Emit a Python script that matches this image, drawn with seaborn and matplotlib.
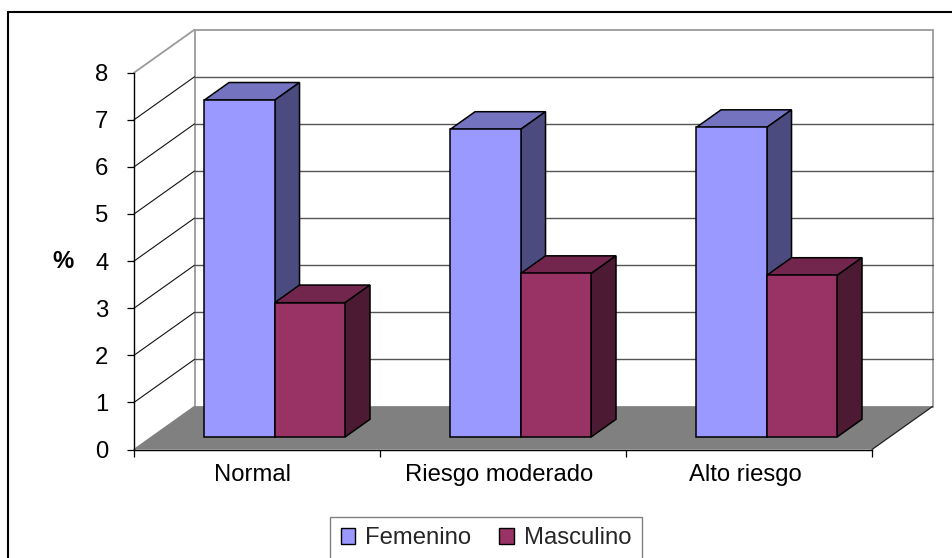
import matplotlib
matplotlib.use("Agg")
import matplotlib.pyplot as plt
from matplotlib.patches import Polygon, Rectangle, Patch
from matplotlib.lines import Line2D
from matplotlib.transforms import ScaledTranslation
import pandas as pd
import seaborn as sns

# Datos
categorias = ["Normal", "Riesgo moderado", "Alto riesgo"]
series = ["Femenino", "Masculino"]
femenino = [7.15, 6.53, 6.57]
masculino = [2.85, 3.47, 3.43]
y_ticks = [0, 1, 2, 3, 4, 5, 6, 7, 8]

color_frente = {"Femenino": "#9999FF", "Masculino": "#993366"}
color_arriba = {"Femenino": "#7373BF", "Masculino": "#73264D"}
color_lado = {"Femenino": "#4B4B80", "Masculino": "#4D1A33"}

df = pd.DataFrame({
    "categoria": categorias * 2,
    "sexo": [series[0]] * 3 + [series[1]] * 3,
    "valor": femenino + masculino,
})

sns.set_theme(style="white")
plt.rcParams["font.family"] = ["Liberation Sans", "DejaVu Sans"]
FS = 17.2

W, H = 952, 558
fig = plt.figure(figsize=(W / 100, H / 100), dpi=100)
fig.patch.set_facecolor("white")
# front plane of the 3D box
ax = fig.add_axes([134 / W, 108.5 / H, 738 / W, 376.8 / H])
ax.set_facecolor("none")

# oblique depth vector in data units (category width, value units)
DX, DY = 60.5 / 246, 43.0 / 47.1
BAR_FRONT = 0.293   # fraction of depth where the bars start
BAR_DEPTH = 0.41    # bar depth as a fraction of the full depth
X0, X1, YMAX = -0.5, 2.5, 8

# floor
ax.add_patch(Polygon([(X0, 0), (X1, 0), (X1 + DX, DY), (X0 + DX, DY)],
                     closed=True, facecolor="#808080", edgecolor="none",
                     zorder=0.5, clip_on=False))
ax.plot([X1, X1 + DX], [0, DY], color="#202020", lw=0.9, zorder=0.6, clip_on=False)

# left wall and back wall
ax.add_patch(Polygon([(X0, 0), (X0 + DX, DY), (X0 + DX, YMAX + DY), (X0, YMAX)],
                     closed=True, facecolor="white", edgecolor="none",
                     zorder=0.2, clip_on=False))
ax.add_patch(Rectangle((X0 + DX, DY), X1 - X0, YMAX, facecolor="white",
                       edgecolor="#9a9a9a", lw=1.3, zorder=0.3, clip_on=False))
ax.plot([X0, X0 + DX], [YMAX, YMAX + DY], color="#9a9a9a", lw=1.3,
        zorder=0.4, clip_on=False)
ax.plot([X0, X0 + DX], [0, DY], color="#808080", lw=1.0,
        zorder=0.6, clip_on=False)

# gridlines on the walls
for v in y_ticks[1:-1]:
    ax.plot([X0 + DX, X1 + DX], [v + DY, v + DY], color="#555555", lw=1.0,
            zorder=0.4, clip_on=False)
    ax.plot([X0, X0 + DX], [v, v + DY], color="#111111", lw=0.8,
            zorder=0.4, clip_on=False)

# front faces of the bars
sns.barplot(data=df, x="categoria", y="valor", hue="sexo", order=categorias,
            hue_order=series, palette=color_frente, width=0.573, dodge=True,
            saturation=1, edgecolor="black", linewidth=1.1, legend=False, ax=ax)

ox, oy = BAR_FRONT * DX, BAR_FRONT * DY
dx, dy = BAR_DEPTH * DX, BAR_DEPTH * DY
for k, (serie, cont) in enumerate(zip(series, ax.containers)):
    z = 3 + k
    for bar in cont:
        x0 = bar.get_x() + ox
        w = bar.get_width()
        h = bar.get_height()
        bar.set_x(x0)
        bar.set_y(oy)
        bar.set_zorder(z + 0.2)
        bar.set_clip_on(False)
        y0 = oy
        top = [(x0, y0 + h), (x0 + w, y0 + h), (x0 + w + dx, y0 + h + dy),
               (x0 + dx, y0 + h + dy)]
        side = [(x0 + w, y0), (x0 + w, y0 + h), (x0 + w + dx, y0 + h + dy),
                (x0 + w + dx, y0 + dy)]
        ax.add_patch(Polygon(top, closed=True, facecolor=color_arriba[serie],
                             edgecolor="black", lw=1.1, zorder=z, clip_on=False))
        ax.add_patch(Polygon(side, closed=True, facecolor=color_lado[serie],
                             edgecolor="black", lw=1.1, zorder=z, clip_on=False))

ax.set_xlim(X0, X1)
ax.set_ylim(0, YMAX)

# axes
for s in ("top", "right"):
    ax.spines[s].set_visible(False)
for s in ("left", "bottom"):
    ax.spines[s].set_visible(True)
    ax.spines[s].set_color("black")
    ax.spines[s].set_linewidth(1.0)
    ax.spines[s].set_zorder(2)

ax.set_yticks(y_ticks)
ax.set_yticklabels([str(t) for t in y_ticks])
ax.tick_params(axis="y", which="major", left=True, direction="out", length=5,
               width=0.9, color="black", pad=13.5, labelsize=FS, labelcolor="black")
ax.set_xticks(range(len(categorias)))
ax.set_xticklabels(categorias)
ax.set_xticks([X0 + i for i in range(len(categorias) + 1)], minor=True)
ax.tick_params(axis="x", which="major", bottom=True, length=0, pad=10.5,
               labelsize=FS, labelcolor="black")
ax.tick_params(axis="x", which="minor", bottom=True, direction="out", length=5,
               width=0.9, color="black")
shift = ScaledTranslation(-4 / 100, 0, fig.dpi_scale_trans)
for lab in ax.get_xticklabels():
    lab.set_transform(lab.get_transform() + shift)
ax.set_xlabel("")
ax.set_ylabel("%", rotation=0, fontsize=FS, fontweight="bold", color="black",
              ha="center", va="center")
ax.yaxis.set_label_coords(-0.096, 0.5)
ax.grid(False)

# legend
handles = [Patch(facecolor=color_frente[s], edgecolor="black", lw=1.0) for s in series]
leg = fig.legend(handles, series, loc="upper center",
                 bbox_to_anchor=(486 / W, 1 - 516.7 / H), ncol=2, fontsize=FS,
                 frameon=True, fancybox=False, framealpha=1, shadow=False,
                 handlelength=0.62, handleheight=0.62, handletextpad=0.42,
                 columnspacing=1.15, borderpad=0.45, borderaxespad=0)
leg.get_frame().set_edgecolor("#808080")
leg.get_frame().set_linewidth(1.0)

# outer chart border
fig.add_artist(Line2D([8 / W, 8 / W], [0, 1 - 12 / H], transform=fig.transFigure,
                      color="black", lw=1.5))
fig.add_artist(Line2D([8 / W, 1], [1 - 12 / H, 1 - 12 / H], transform=fig.transFigure,
                      color="black", lw=1.5))

fig.savefig("out.png", dpi=100, facecolor="white")
